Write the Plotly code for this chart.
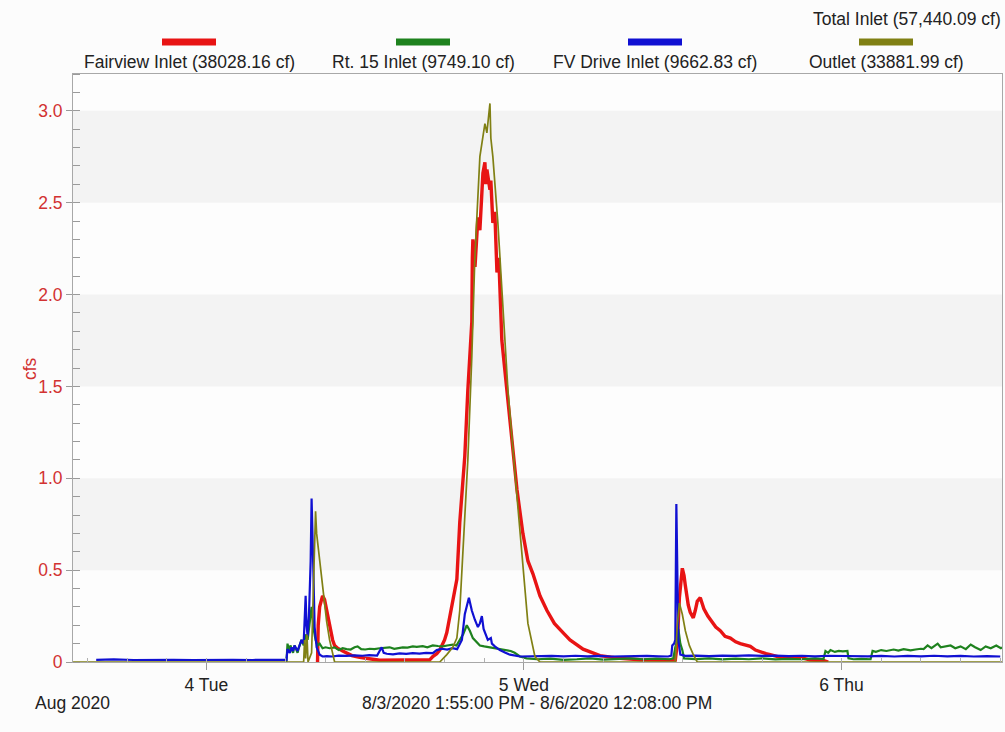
import pandas as pd
import plotly.graph_objects as go

# ---- data: flow rates (cfs); times are hours after 2020-08-04 00:00 ----
base = pd.Timestamp("2020-08-04 00:00")
t_start = pd.Timestamp("2020-08-03 13:55")
t_end = pd.Timestamp("2020-08-06 12:08")

fairview_h = [8.40, 8.45, 8.56, 8.78, 8.93, 9.09, 9.31, 9.54, 9.69, 9.92, 10.3, 10.6, 11.0, 11.58,
              12.11, 12.57, 13.1, 14.0, 15.0, 16.0, 16.88, 17.11, 17.41, 17.64, 18.0, 18.17, 18.4,
              18.62, 18.93, 19.15, 19.38, 19.53, 19.76, 20.06, 20.10, 20.14, 20.3, 20.52, 20.67,
              20.82, 20.90, 21.05, 21.12, 21.20, 21.43, 21.50, 21.65, 21.80, 21.96, 22.10, 22.33,
              22.71, 23.09, 23.47, 23.92, 24.30, 24.68, 25.21, 25.74, 26.3, 26.95, 27.48, 28.47,
              29.75, 31.27, 32.78, 34.3, 35.44, 35.59, 35.75, 35.97, 36.10, 36.19, 36.42, 36.57,
              36.80, 36.95, 37.10, 37.33, 37.6, 37.9, 38.09, 38.5, 38.84, 39.2, 39.60, 40.0, 40.35,
              40.7, 41.11, 41.5, 41.87, 42.3, 42.62, 43.38, 44.89, 45.65, 46.64, 47.0]
fairview_v = [0.0, 0.20, 0.30, 0.36, 0.34, 0.28, 0.19, 0.12, 0.09, 0.075, 0.06, 0.05, 0.035, 0.025,
              0.018, 0.015, 0.01, 0.01, 0.008, 0.01, 0.012, 0.03, 0.045, 0.065, 0.12, 0.16, 0.25,
              0.34, 0.45, 0.76, 1.0, 1.12, 1.48, 1.85, 2.2, 2.3, 2.15, 2.42, 2.35,
              2.52, 2.66, 2.72, 2.6, 2.68, 2.57, 2.62, 2.39, 2.45, 2.12, 2.2, 1.75,
              1.48, 1.21, 0.94, 0.70, 0.55, 0.48, 0.36, 0.28, 0.21, 0.16, 0.12, 0.07,
              0.035, 0.02, 0.012, 0.01, 0.01, 0.10, 0.35, 0.51, 0.47, 0.42, 0.31, 0.27,
              0.24, 0.28, 0.33, 0.35, 0.29, 0.25, 0.23, 0.19, 0.17, 0.14, 0.13, 0.11, 0.10,
              0.095, 0.085, 0.065, 0.055, 0.045, 0.04, 0.025, 0.025, 0.01, 0.008, 0.0]

rt15_h = [6.05, 6.13, 6.25, 6.35, 6.44, 6.55, 6.66, 6.8, 6.89, 7.0, 7.19, 7.35, 7.50, 7.65, 7.80,
          7.95, 8.10, 8.25, 8.40, 8.56, 8.78, 9.0, 9.31, 9.69, 10.0, 10.3, 10.6, 10.9, 11.2, 11.43,
          11.7, 12.0, 12.34, 12.7, 13.1, 13.4, 13.85, 14.2, 14.6, 14.84, 15.2, 15.6, 15.9, 16.35,
          16.7, 17.11, 17.5, 17.87, 18.2, 18.62, 18.9, 19.15, 19.4, 19.68, 19.91, 20.14, 20.4,
          20.67, 21.0, 21.43, 21.8, 22.18, 22.6, 23.0, 23.3, 23.7, 24.2, 25.0, 26.0, 27.0, 28.0,
          29.0, 30.0, 31.0, 32.0, 33.0, 34.0, 35.0, 35.29, 35.44, 35.59, 35.67, 35.82, 35.97,
          36.1, 37.0, 38.0, 39.0, 40.0, 41.0, 42.0, 43.0, 44.0, 45.0, 46.0, 46.64, 46.79, 47.0,
          47.17, 47.5, 47.8, 48.1, 48.45, 48.53, 48.91, 49.5, 50.2, 50.35, 50.6, 51.0, 51.4,
          51.94, 52.3, 52.7, 53.22, 53.6, 54.0, 54.21, 54.51, 54.8, 55.27, 55.5, 55.8, 56.25,
          56.6, 57.0, 57.4, 57.77, 58.1, 58.52, 58.9, 59.28, 59.7, 60.04, 60.13]
rt15_v = [0.0, 0.10, 0.06, 0.09, 0.07, 0.05, 0.09, 0.06, 0.05, 0.08, 0.12, 0.09, 0.15, 0.12, 0.22,
          0.30, 0.18, 0.12, 0.09, 0.10, 0.075, 0.08, 0.075, 0.08, 0.065, 0.075, 0.07, 0.068, 0.08, 0.085,
          0.07, 0.068, 0.072, 0.07, 0.075, 0.078, 0.08, 0.072, 0.076, 0.08, 0.078, 0.085, 0.082, 0.086,
          0.08, 0.09, 0.087, 0.085, 0.09, 0.095, 0.09, 0.12, 0.15, 0.20, 0.17, 0.13, 0.11,
          0.09, 0.085, 0.08, 0.075, 0.07, 0.065, 0.06, 0.05, 0.03, 0.02, 0.015, 0.018, 0.012, 0.015,
          0.02, 0.013, 0.017, 0.02, 0.015, 0.018, 0.015, 0.02, 0.08, 0.12, 0.18, 0.10, 0.065,
          0.02, 0.016, 0.02, 0.014, 0.018, 0.015, 0.02, 0.014, 0.017, 0.015, 0.02, 0.016, 0.06, 0.05,
          0.065, 0.055, 0.06, 0.058, 0.06, 0.02, 0.015, 0.017, 0.015, 0.06, 0.055, 0.065, 0.06,
          0.068, 0.062, 0.07, 0.063, 0.068, 0.072, 0.07, 0.09, 0.075, 0.10, 0.08, 0.085, 0.09,
          0.075, 0.085, 0.07, 0.095, 0.08, 0.065, 0.085, 0.075, 0.09, 0.075, 0.08]

fvdrive_h = [-8.33, -7.0, -5.5, -4.0, -2.5, -1.0, 0.5, 2.0, 3.5, 5.0, 6.05, 6.13, 6.3, 6.44, 6.55,
             6.66, 6.8, 6.89, 7.04, 7.19, 7.35, 7.50, 7.57, 7.65, 7.75, 7.88, 7.95, 8.03, 8.10, 8.18,
             8.33, 8.56, 8.78, 9.1, 9.5, 10.0, 10.6, 11.2, 11.8, 12.3, 12.9, 13.25, 13.40, 13.63,
             14.1, 14.6, 15.1, 15.6, 16.1, 16.6, 17.11, 17.41, 17.8, 18.2, 18.6, 18.95, 19.15, 19.31,
             19.53, 19.68, 19.84, 20.0, 20.06, 20.29, 20.52, 20.67, 20.82, 20.95, 21.05, 21.27, 21.50,
             21.58, 21.8, 22.18, 22.6, 22.94, 23.7, 24.5, 25.3, 26.1, 27.0, 27.9, 28.8, 29.7, 30.6,
             31.5, 32.4, 33.3, 34.2, 34.9, 35.14, 35.21, 35.35, 35.44, 35.52, 35.59, 35.67, 35.82,
             36.2, 37.0, 38.0, 39.0, 40.0, 41.0, 42.0, 43.0, 44.0, 45.0, 46.0, 47.0, 48.0, 49.0,
             50.0, 51.0, 52.0, 53.0, 54.0, 55.0, 56.0, 57.0, 58.0, 59.0, 60.0]
fvdrive_v = [0.012, 0.014, 0.011, 0.013, 0.012, 0.011, 0.013, 0.012, 0.011, 0.013, 0.012, 0.07, 0.05,
             0.08, 0.06, 0.09, 0.07, 0.06, 0.09, 0.12, 0.10, 0.36, 0.20, 0.14, 0.25, 0.55, 0.89, 0.70,
             0.45, 0.19, 0.08, 0.04, 0.03, 0.032, 0.03, 0.035, 0.033, 0.036, 0.034, 0.037, 0.035, 0.08,
             0.05, 0.045, 0.042, 0.047, 0.044, 0.048, 0.046, 0.05, 0.048, 0.065, 0.072, 0.068, 0.075,
             0.07, 0.10, 0.12, 0.26, 0.30, 0.35, 0.30, 0.28, 0.23, 0.19, 0.21, 0.25, 0.18, 0.16, 0.12,
             0.13, 0.10, 0.085, 0.065, 0.05, 0.04, 0.03, 0.032, 0.03, 0.033, 0.031, 0.034, 0.031, 0.033,
             0.03, 0.032, 0.03, 0.033, 0.031, 0.03, 0.035, 0.09, 0.10, 0.12, 0.86, 0.40, 0.12, 0.04,
             0.033, 0.035, 0.032, 0.035, 0.033, 0.036, 0.033, 0.035, 0.032, 0.034, 0.031, 0.034, 0.032,
             0.034, 0.031, 0.033, 0.03, 0.033, 0.031, 0.034, 0.031, 0.033, 0.03, 0.032, 0.03]

outlet_h = [-10.08, 7.35, 7.42, 7.5, 7.60, 7.68, 7.95, 8.10, 8.25, 8.33, 8.56, 8.78, 9.09, 9.31, 9.54,
            9.69, 17.64, 18.17, 18.62, 18.93, 19.15, 19.38, 19.53, 19.76, 20.06, 20.29, 20.67, 21.05,
            21.20, 21.30, 21.43, 21.50, 21.65, 22.03, 22.41, 22.79, 23.32, 23.85, 24.30, 24.83, 25.21,
            35.44, 35.59, 35.75, 35.97, 36.2, 36.5, 36.8, 37.10, 60.13]
outlet_v = [0.0, 0.0, 0.12, 0.02, 0.15, 0.0, 0.05, 0.45, 0.82, 0.70, 0.55, 0.40, 0.22, 0.12, 0.04,
            0.0, 0.0, 0.04, 0.08, 0.13, 0.28, 0.60, 0.76, 1.1, 1.66, 2.2, 2.75, 2.93,
            2.88, 2.96, 3.04, 2.85, 2.75, 2.39, 1.93, 1.48, 1.03, 0.57, 0.21, 0.03, 0.0,
            0.0, 0.20, 0.32, 0.26, 0.17, 0.09, 0.04, 0.0, 0.0]

series = [
    ("Fairview Inlet (38028.16 cf)", fairview_h, fairview_v, "#e81414", 3.4),
    ("Rt. 15 Inlet (9749.10 cf)", rt15_h, rt15_v, "#1e821e", 2.2),
    ("FV Drive Inlet (9662.83 cf)", fvdrive_h, fvdrive_v, "#1010d2", 2.2),
    ("Outlet (33881.99 cf)", outlet_h, outlet_v, "#808014", 1.7),
]
total_label = "Total Inlet (57,440.09 cf)"

day_ticks = ["2020-08-04", "2020-08-05", "2020-08-06"]
day_labels = ["4 Tue", "5 Wed", "6 Thu"]
y_ticks = [0, 0.5, 1.0, 1.5, 2.0, 2.5, 3.0]
y_labels = ["0", "0.5", "1.0", "1.5", "2.0", "2.5", "3.0"]

# ---- page geometry (pixels) ----
W, H = 1005, 732
L, R, T, B = 73, 1002, 74, 662
FONT = "Liberation Sans, Arial, sans-serif"
FS = 17.5
TEXT = "#222222"
RED_TEXT = "#d23232"


def px(x):
    return (x - L) / (R - L)


def py(y):
    return (B - y) / (B - T)


def to_time(hours):
    return base + pd.to_timedelta(pd.Series(hours), unit="h")


fig = go.Figure()
for name, hrs, vals, color, width in series:
    fig.add_trace(go.Scatter(
        x=to_time(hrs), y=vals, mode="lines", name=name,
        line=dict(color=color, width=width), showlegend=False,
    ))

# alternating horizontal bands
shapes = []
for lo in (0.5, 1.5, 2.5):
    shapes.append(dict(type="rect", xref="paper", yref="y", x0=0, x1=1, y0=lo, y1=lo + 0.5,
                       fillcolor="#f3f3f3", line_width=0, layer="below"))

# legend swatches and labels drawn above the plot
annotations = []
legend_centers = [189, 423, 655, 886]
for (name, _, _, color, _), cx in zip(series, legend_centers):
    shapes.append(dict(type="rect", xref="paper", yref="paper",
                       x0=px(cx - 27), x1=px(cx + 27), y0=py(45.5), y1=py(38.5),
                       fillcolor=color, line_width=0))
    annotations.append(dict(text=name, xref="paper", yref="paper", x=px(cx), y=py(62),
                            xanchor="center", yanchor="middle", showarrow=False,
                            font=dict(size=FS, color=TEXT, family=FONT)))

annotations += [
    dict(text=total_label, xref="paper", yref="paper", x=px(1003), y=py(19),
         xanchor="right", yanchor="middle", showarrow=False,
         font=dict(size=FS, color=TEXT, family=FONT)),
    dict(text="Aug 2020", xref="paper", yref="paper", x=px(33), y=py(703),
         xanchor="left", yanchor="middle", showarrow=False,
         font=dict(size=FS, color=TEXT, family=FONT)),
    dict(text="8/3/2020 1:55:00 PM - 8/6/2020 12:08:00 PM", xref="paper", yref="paper",
         x=px(537), y=py(703), xanchor="center", yanchor="middle", showarrow=False,
         font=dict(size=FS, color=TEXT, family=FONT)),
    dict(text="cfs", xref="paper", yref="paper", x=px(30), y=py(369), textangle=-90,
         xanchor="center", yanchor="middle", showarrow=False,
         font=dict(size=FS, color=RED_TEXT, family=FONT)),
]

fig.update_layout(
    width=W, height=H,
    margin=dict(l=L, r=W - R, t=T, b=H - B, pad=0),
    paper_bgcolor="#fcfcfc", plot_bgcolor="#fdfdfd",
    shapes=shapes, annotations=annotations,
    font=dict(family=FONT, size=FS, color=TEXT),
)
fig.update_xaxes(
    range=[t_start, t_end], type="date",
    tickmode="array", tickvals=day_ticks, ticktext=day_labels,
    ticks="outside", ticklen=7, tickcolor="#9a9a9a",
    showgrid=False, zeroline=False,
    showline=True, linecolor="#a8a8a8", linewidth=1, mirror=True,
    tickfont=dict(size=FS, color=TEXT, family=FONT),
    minor=dict(tickmode="linear", tick0="2020-08-04", dtick=3 * 3600 * 1000,
               ticks="inside", ticklen=4, tickcolor="#b0b0b0"),
)
fig.update_yaxes(
    range=[0, 3.2], tickmode="array", tickvals=y_ticks, ticktext=y_labels,
    ticks="outside", ticklen=6, tickcolor="#9a9a9a",
    showgrid=False, zeroline=False,
    showline=True, linecolor="#a8a8a8", linewidth=1, mirror=True,
    tickfont=dict(size=FS, color=RED_TEXT, family=FONT),
    minor=dict(tickmode="linear", tick0=0, dtick=0.1,
               ticks="inside", ticklen=7, tickcolor="#9a9a9a"),
)

fig.write_html("out.html")
